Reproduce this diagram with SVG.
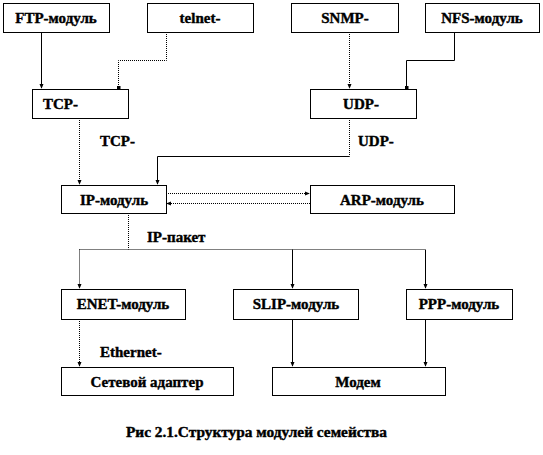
<svg xmlns="http://www.w3.org/2000/svg" width="543" height="455" viewBox="0 0 543 455">
<style>
.box{fill:#fff;stroke:#000;stroke-width:1}
.t{font-family:"Liberation Serif","Times New Roman","DejaVu Serif",serif;font-weight:bold;font-size:15px;fill:#000;stroke:#000;stroke-width:0.4}
.c{text-anchor:middle}
.ln{fill:none;stroke:#000;stroke-width:1}
.dt{stroke-dasharray:1 1}
</style>
<defs>
<marker id="ah" viewBox="0 0 6 6" refX="5" refY="3" markerWidth="5" markerHeight="5" orient="auto" markerUnits="userSpaceOnUse">
<path d="M0,0.5 L6,3 L0,5.5 z" fill="#000"/>
</marker>
<marker id="dot" viewBox="0 0 4 4" refX="2" refY="2" markerWidth="4" markerHeight="4" markerUnits="userSpaceOnUse">
<rect x="0" y="0" width="4" height="4" fill="#000"/>
</marker>
</defs>
<rect width="543" height="455" fill="#fff"/>
<g id="connectors">
<path class="ln" d="M41.5,32 V88" marker-end="url(#ah)"/>
<path class="ln dt" d="M166.5,32 V60.5 H118.5 V88" marker-end="url(#dot)"/>
<path class="ln dt" d="M349.5,32 V88" marker-end="url(#ah)"/>
<path class="ln" d="M454.5,33 V60.5 H406.5 V88" marker-end="url(#dot)"/>
<path class="ln dt" d="M79.5,118 V184" marker-end="url(#ah)"/>
<path class="ln dt" d="M349.5,118 V156.5"/>
<path class="ln" d="M349.5,156.5 H157.5 V184" marker-end="url(#ah)"/>
<path class="ln dt" d="M166,193.5 H309" marker-end="url(#ah)"/>
<path class="ln dt" d="M310,203.5 H167" marker-end="url(#ah)"/>
<path class="ln dt" d="M128.5,213 V249.5"/>
<path class="ln dt" d="M79.5,249.5 H425.5"/>
<path class="ln dt" d="M79.5,249.5 V288" marker-end="url(#ah)"/>
<path class="ln" d="M292.5,249.5 V288" marker-end="url(#ah)"/>
<path class="ln" d="M425.5,249.5 V288" marker-end="url(#ah)"/>
<path class="ln dt" d="M79.5,319 V366" marker-end="url(#ah)"/>
<path class="ln" d="M292.5,319 V366" marker-end="url(#ah)"/>
<path class="ln" d="M425.5,319 V366" marker-end="url(#ah)"/>
</g>
<g id="ftp"><rect class="box" x="3.5" y="3.5" width="106" height="29"/><text class="t c" x="56" y="23">FTP-модуль</text></g>
<g id="telnet"><rect class="box" x="147.5" y="3.5" width="106" height="29"/><text class="t c" x="200" y="23">telnet-</text></g>
<g id="snmp"><rect class="box" x="291.5" y="3.5" width="107" height="29"/><text class="t c" x="345" y="23">SNMP-</text></g>
<g id="nfs"><rect class="box" x="425.5" y="3.5" width="114" height="29"/><text class="t c" x="482" y="23">NFS-модуль</text></g>
<g id="tcp"><rect class="box" x="32.5" y="89.5" width="96" height="29"/><text class="t" x="43" y="109">TCP-</text></g>
<g id="udp"><rect class="box" x="310.5" y="89.5" width="106" height="29"/><text class="t c" x="361" y="109">UDP-</text></g>
<g id="ip"><rect class="box" x="61.5" y="185.5" width="105" height="28"/><text class="t c" x="114" y="205">IP-модуль</text></g>
<g id="arp"><rect class="box" x="310.5" y="185.5" width="144" height="28"/><text class="t c" x="382" y="205">ARP-модуль</text></g>
<g id="enet"><rect class="box" x="61.5" y="289.5" width="124" height="30"/><text class="t c" x="123" y="309">ENET-модуль</text></g>
<g id="slip"><rect class="box" x="233.5" y="289.5" width="125" height="30"/><text class="t c" x="296" y="309">SLIP-модуль</text></g>
<g id="ppp"><rect class="box" x="406.5" y="289.5" width="106" height="30"/><text class="t c" x="459" y="309">PPP-модуль</text></g>
<g id="adapter"><rect class="box" x="61.5" y="367.5" width="172" height="28"/><text class="t c" x="147" y="387">Сетевой адаптер</text></g>
<g id="modem"><rect class="box" x="272.5" y="367.5" width="173" height="28"/><text class="t c" x="358" y="387">Модем</text></g>
<g id="labels">
<text class="t" x="100" y="146">TCP-</text>
<text class="t" x="358" y="146">UDP-</text>
<text class="t" x="147" y="242">IP-пакет</text>
<text class="t" x="100" y="357">Ethernet-</text>
<text class="t" x="126" y="437" style="font-size:14px" textLength="261" lengthAdjust="spacingAndGlyphs">Рис 2.1.Структура модулей семейства</text>
</g>
</svg>
